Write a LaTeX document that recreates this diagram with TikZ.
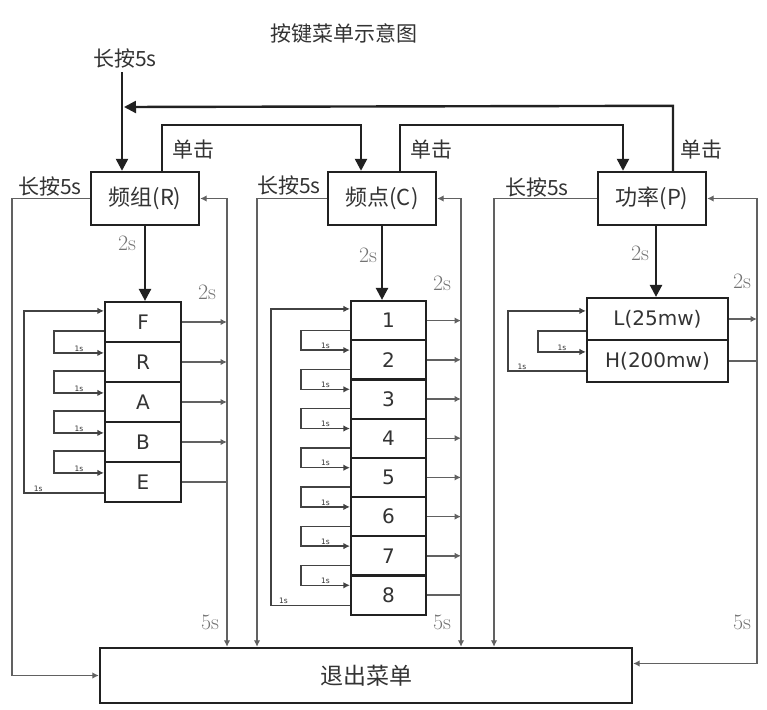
\documentclass[tikz,border=0pt]{standalone}
\usepackage{fontspec}
\newfontfamily\cjk{Noto Sans CJK SC}
\newfontfamily\sansf{DejaVu Sans}
\usetikzlibrary{arrows.meta,calc}
\definecolor{ink}{gray}{0.13}
\definecolor{txt}{gray}{0.2}
\definecolor{retc}{gray}{0.38}
\definecolor{timc}{gray}{0.45}
\begin{document}
\begin{tikzpicture}[x=1pt,y=-1pt,
  bigbox/.style={draw=ink, line width=2.4pt, minimum width=108pt, minimum height=53pt, inner sep=0pt, font=\cjk\fontsize{22}{24}\selectfont, text=txt},
  cell/.style={draw=ink, line width=2.2pt, inner sep=0pt, font=\sansf\fontsize{20}{22}\selectfont, text=txt},
  mainln/.style={draw=ink, line width=2.4pt},
  bigtip/.style={-{Triangle[length=12pt,width=12pt]}},
  retln/.style={draw=retc, line width=1.4pt},
  smtip/.style={-{Latex[length=6.5pt,width=6.5pt]}},
  loopln/.style={draw=ink!85, line width=1.3pt, -{Latex[length=6.5pt,width=6.5pt]}},
  lab/.style={font=\cjk\fontsize{21}{24}\selectfont, text=txt, inner sep=0pt},
  tim/.style={font=\fontsize{22}{24}\selectfont, text=timc, inner sep=0pt},
  tinyl/.style={font=\sansf\fontsize{7.5}{8}\selectfont, text=txt, inner sep=1pt}
]
\useasboundingbox (0,0) rectangle (767,709);

% title
\node[lab] (title) at (344,33) {按键菜单示意图};

% top boxes
\node[bigbox] (bR) at (145,198.5) {频组(R)};
\node[bigbox] (bC) at (382,198.5) {频点(C)};
\node[bigbox] (bP) at (652,198.5) {功率(P)};
\node[bigbox, minimum width=532pt, minimum height=55pt, font=\cjk\fontsize{23}{26}\selectfont] (ex) at (366,675.5) {退出菜单};

% left column
\foreach \n/\t/\yy in {cF/F/322, cR/R/362, cA/A/402, cB/B/442, cE/E/482}
  \node[cell, minimum width=76pt, minimum height=40pt] (\n) at (143,\yy) {\t};
% middle column
\foreach \i in {1,...,8}
  \node[cell, minimum width=75pt, minimum height=39.2pt] (m\i) at (388.5,{301+19.6+39.2*(\i-1)}) {\i};
% right column
\node[cell, minimum width=141pt, minimum height=42pt] (pL) at (657.5,319) {L(25mw)};
\node[cell, minimum width=141pt, minimum height=42pt] (pH) at (657.5,361) {H(200mw)};

% labels
\node[lab] (lpTop) at (125,58) {长按5s};
\node[lab] (lpR) at (50,186) {长按5s};
\node[lab] (lpC) at (289,185) {长按5s};
\node[lab] (lpP) at (537,187) {长按5s};
\node[lab] (clk1) at (193,150) {单击};
\node[lab] (clk2) at (431,150) {单击};
\node[lab] (clk3) at (701,150) {单击};

\node[tim] at (127,243) {2s};
\node[tim] at (368,255) {2s};
\node[tim] at (640,253) {2s};
\node[tim] at (207,292) {2s};
\node[tim] at (442,283) {2s};
\node[tim] at (742,281) {2s};
\node[tim] at (210,622) {5s};
\node[tim] at (442,622) {5s};
\node[tim] at (742,622) {5s};

% coordinates
\coordinate (topStart) at (122,72);
\coordinate (topBar) at (122,107);
\coordinate (rL) at (227,0);
\coordinate (rC) at (461,0);
\coordinate (rP) at (757,0);
\coordinate (lL) at (12,0);
\coordinate (lC) at (257,0);
\coordinate (lP) at (494,0);

% main entry and click loops
\draw[mainln,bigtip] (topStart) -- (topStart |- bR.north);
\draw[mainln,bigtip] ([xshift=17pt]bR.north) -- ++(0,-46) -| ([xshift=-21pt]bC.north);
\draw[mainln,bigtip] ([xshift=18pt]bC.north) -- ++(0,-46) -| ([xshift=-29pt]bP.north);
\draw[mainln,-{Triangle[length=12pt,width=12pt]}] ([xshift=21pt]bP.north) -- ++(0,-65) -- ([xshift=2pt]topBar);

% 2s down arrows
\draw[mainln,bigtip] (bR.south) -- (bR.south |- cF.north);
\draw[mainln,bigtip] (bC.south) -- (bC.south |- m1.north);
\draw[mainln,bigtip] ([xshift=4pt]bP.south) -- ([xshift=4pt]bP.south |- pL.north);

% long press to exit
\draw[retln,smtip] (bR.west) -- (bR.west -| lL) |- (ex.west);
\draw[retln,smtip] (bC.west) -| (lC |- ex.north);
\draw[retln,smtip] (bP.west) -| (lP |- ex.north);

% return lines
\draw[retln,{Latex[length=6.5pt,width=6.5pt]}-{Latex[length=6.5pt,width=6.5pt]}] (bR.east) -- (bR.east -| rL) -- (rL |- ex.north);
\draw[retln,{Latex[length=6.5pt,width=6.5pt]}-{Latex[length=6.5pt,width=6.5pt]}] (bC.east) -- (bC.east -| rC) -- (rC |- ex.north);
\draw[retln,{Latex[length=6.5pt,width=6.5pt]}-{Latex[length=6.5pt,width=6.5pt]}] (bP.east) -- (bP.east -| rP) |- ([yshift=12pt]ex.east);

% outputs
\foreach \n in {cF,cR,cA,cB} \draw[retln,smtip] (\n.east) -- (\n.east -| rL);
\draw[retln] (cE.east) -- (cE.east -| rL);
\foreach \i in {1,...,7} \draw[retln,smtip] (m\i.east) -- (m\i.east -| rC);
\draw[retln] (m8.east) -- (m8.east -| rC);
\draw[retln,smtip] (pL.east) -- (pL.east -| rP);
\draw[retln] (pH.east) -- (pH.east -| rP);

% loops left
\foreach \a/\b in {cF/cR, cR/cA, cA/cB, cB/cE}
  \draw[loopln] ([yshift=12pt]\a.south west) -- ++(-50,0) |- node[pos=0.75, above, tinyl] {1s} ([yshift=-12pt]\b.north west);
\draw[loopln] ([yshift=10pt]cE.south west) -- ++(-80,0) node[pos=0.82, above, tinyl] {1s} |- ([yshift=-10pt]cF.north west);

% loops middle
\foreach \a/\b in {m1/m2, m2/m3, m3/m4, m4/m5, m5/m6, m6/m7, m7/m8}
  \draw[loopln] ([yshift=11pt]\a.south west) -- ++(-49,0) |- node[pos=0.75, above, tinyl] {1s} ([yshift=-11pt]\b.north west);
\draw[loopln] ([yshift=10pt]m8.south west) -- ++(-79,0) node[pos=0.84, above, tinyl] {1s} |- ([yshift=-9pt]m1.north west);

% loops right
\draw[loopln] ([yshift=10pt]pL.south west) -- ++(-48,0) |- node[pos=0.75, above, tinyl] {1s} ([yshift=-13pt]pH.north west);
\draw[loopln] ([yshift=12pt]pH.south west) -- ++(-78,0) node[pos=0.82, above, tinyl] {1s} |- ([yshift=-14pt]pL.north west);

\end{tikzpicture}
\end{document}
